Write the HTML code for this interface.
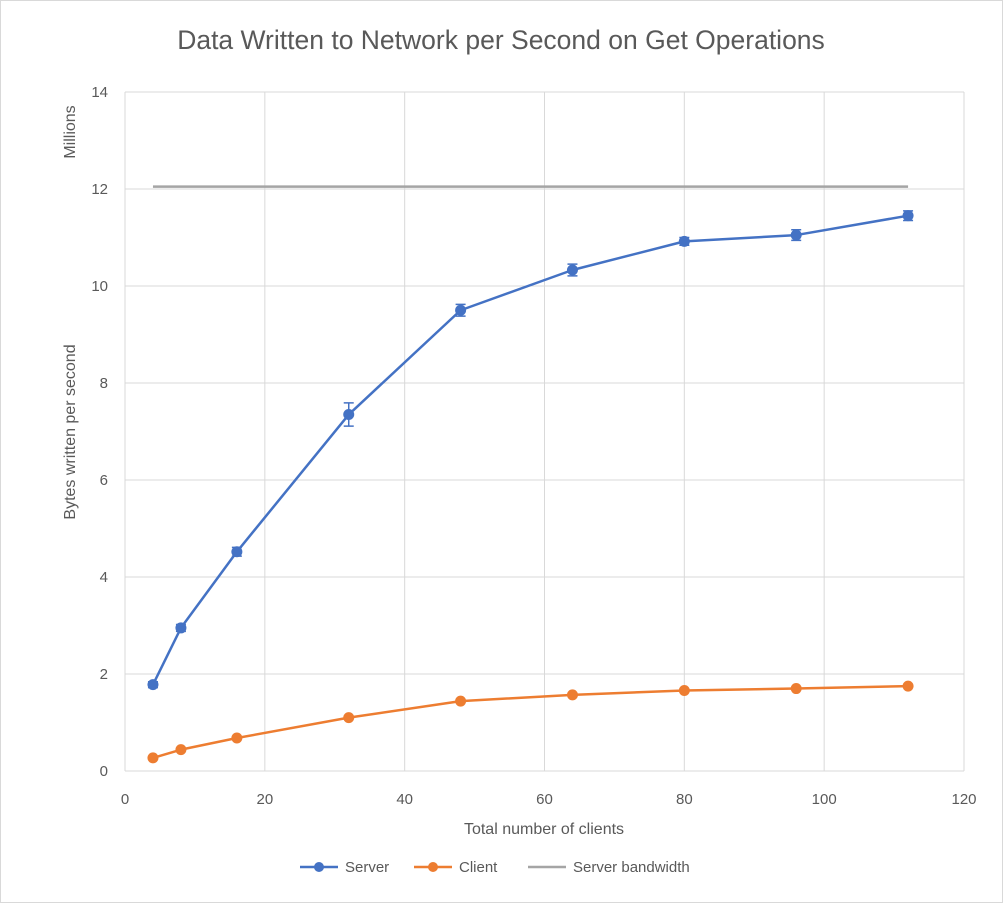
<!DOCTYPE html>
<html><head><meta charset="utf-8"><style>
html,body{margin:0;padding:0;background:#fff;}
svg{display:block;font-family:"Liberation Sans",sans-serif;}
</style></head><body>
<svg id="chart" width="1003" height="903" viewBox="0 0 1003 903">
<rect x="0.5" y="0.5" width="1002" height="902" fill="#fff" stroke="#d9d9d9"/>
<text x="501" y="49" text-anchor="middle" font-size="26.5" fill="#595959">Data Written to Network per Second on Get Operations</text>
<g id="grid"></g>
<g id="axes"></g>
<g id="series"></g>
<text x="544" y="834" text-anchor="middle" font-size="16" fill="#595959">Total number of clients</text>
<text transform="translate(75,432) rotate(-90)" text-anchor="middle" font-size="16" fill="#595959">Bytes written per second</text>
<text transform="translate(75,132) rotate(-90)" text-anchor="middle" font-size="16" fill="#595959">Millions</text>
<g>
<g><line x1="300" y1="867" x2="338" y2="867" stroke="#4472c4" stroke-width="2.5"/><circle cx="319" cy="867" r="5" fill="#4472c4"/><text x="345" y="872" font-size="15" fill="#595959">Server</text></g>
<g><line x1="414" y1="867" x2="452" y2="867" stroke="#ed7d31" stroke-width="2.5"/><circle cx="433" cy="867" r="5" fill="#ed7d31"/><text x="459" y="872" font-size="15" fill="#595959">Client</text></g>
<g><line x1="528" y1="867" x2="566" y2="867" stroke="#a5a5a5" stroke-width="2.5"/><text x="573" y="872" font-size="15" fill="#595959">Server bandwidth</text></g>
</g>
</svg>
<script>
const clients=[4,8,16,32,48,64,80,96,112];
const serverVals=[1.78,2.95,4.52,7.35,9.5,10.33,10.92,11.05,11.45];
const serverErr=[0.06,0.07,0.09,0.24,0.12,0.12,0.08,0.11,0.1];
const clientVals=[0.27,0.44,0.68,1.1,1.44,1.57,1.66,1.7,1.75];
const bandwidthVals=[12.05,12.05];
const bandwidthX=[4,112];
const xTicks=[0,20,40,60,80,100,120];
const yTicks=[0,2,4,6,8,10,12,14];
const NS="http://www.w3.org/2000/svg";
const X0=125,X1=964,Y0=771,Y1=92;
function xs(v){return X0+(v/120)*(X1-X0);}
function ys(v){return Y0-(v/14)*(Y0-Y1);}
function mk(tag,attrs,parent){const e=document.createElementNS(NS,tag);for(const k in attrs)e.setAttribute(k,attrs[k]);parent.appendChild(e);return e;}
const grid=document.getElementById('grid'),axes=document.getElementById('axes'),ser=document.getElementById('series');
yTicks.forEach(t=>{
 const l=mk('line',{x1:X0,x2:X1,y1:ys(t),y2:ys(t),stroke:'#d9d9d9','stroke-width':1},grid);
 
 
 const tx=mk('text',{x:X0-17,y:ys(t)+5,'text-anchor':'end','font-size':15,fill:'#595959'},axes);
 tx.textContent=t;
 
 
});
xTicks.forEach(t=>{
 const l=mk('line',{x1:xs(t),x2:xs(t),y1:Y1,y2:Y0,stroke:'#d9d9d9','stroke-width':1},grid);
 
 
 const tx=mk('text',{x:xs(t),y:Y0+33,'text-anchor':'middle','font-size':15,fill:'#595959'},axes);
 tx.textContent=t;
 
 
});
const bw=mk('line',{x1:xs(bandwidthX[0]),x2:xs(bandwidthX[1]),y1:ys(bandwidthVals[0]),y2:ys(bandwidthVals[1]),stroke:'#a5a5a5','stroke-width':2.5},ser);


function drawSeries(vals,color,name,err){
 const pts=clients.map((c,i)=>xs(c)+','+ys(vals[i])).join(' ');
 const pl=mk('polyline',{points:pts,fill:'none',stroke:color,'stroke-width':2.5,'stroke-linejoin':'round'},ser);
 
 
 clients.forEach((c,i)=>{
  if(err){
   const x=xs(c),a=ys(vals[i]-err[i]),b=ys(vals[i]+err[i]);
   const g=mk('path',{d:`M${x},${a}V${b}M${x-5},${a}H${x+5}M${x-5},${b}H${x+5}`,stroke:color,'stroke-width':1.5,fill:'none'},ser);
   
   
  }
  const p=mk('circle',{cx:xs(c),cy:ys(vals[i]),r:5.5,fill:color},ser);
  
  
 });
}
drawSeries(clientVals,'#ed7d31','client',null);
drawSeries(serverVals,'#4472c4','server',serverErr);
</script>
</body></html>
